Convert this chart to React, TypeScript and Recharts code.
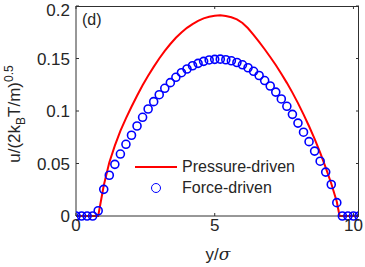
import { ComposedChart, Line, Scatter, XAxis, YAxis } from 'recharts'

// force-driven (circles), sampled every 0.2 sigma
const forceY = [
  0, 0.2, 0.4, 0.6, 0.8, 1.0, 1.2, 1.4, 1.6, 1.8, 2.0, 2.2, 2.4, 2.6, 2.8, 3.0, 3.2, 3.4,
  3.6, 3.8, 4.0, 4.2, 4.4, 4.6, 4.8, 5.0, 5.2, 5.4, 5.6, 5.8, 6.0, 6.2, 6.4, 6.6, 6.8, 7.0,
  7.2, 7.4, 7.6, 7.8, 8.0, 8.2, 8.4, 8.6, 8.8, 9.0, 9.2, 9.4, 9.6, 9.8, 10.0, 10.2,
]
const forceU = [
  0, 0, 0, 0, 0.005, 0.0254, 0.0388, 0.0492, 0.059, 0.0683, 0.0769, 0.0857, 0.094, 0.1019,
  0.1089, 0.1155, 0.1216, 0.127, 0.1321, 0.1365, 0.14, 0.1431, 0.1454, 0.1473, 0.1486,
  0.1492, 0.1494, 0.1488, 0.1478, 0.1462, 0.144, 0.1412, 0.1378, 0.1338, 0.129, 0.1238,
  0.118, 0.1115, 0.1045, 0.0968, 0.0885, 0.0798, 0.0708, 0.0618, 0.0522, 0.0418, 0.03,
  0.0127, 0, 0, 0, 0,
]

// pressure-driven (red line)
const pressureY = [
  0, 0.8, 1.0, 1.2, 1.4, 1.6, 1.8, 2.0, 2.2, 2.4, 2.6, 2.8, 3.0, 3.2, 3.4, 3.6, 3.8, 4.0,
  4.2, 4.4, 4.6, 4.8, 5.0, 5.2, 5.4, 5.6, 5.8, 6.0, 6.2, 6.4, 6.6, 6.8, 7.0, 7.2, 7.4, 7.6,
  7.8, 8.0, 8.2, 8.4, 8.6, 8.8, 9.0, 9.2, 9.4, 9.5, 10.2,
]
const pressureU = [
  0, 0, 0.029, 0.051, 0.067, 0.081, 0.093, 0.104, 0.1145, 0.1245, 0.1335, 0.142, 0.15,
  0.1573, 0.1638, 0.1697, 0.1748, 0.1792, 0.1828, 0.1858, 0.1882, 0.1898, 0.1908, 0.1912,
  0.1905, 0.1893, 0.1872, 0.1838, 0.1788, 0.1725, 0.1658, 0.1588, 0.1514, 0.1438, 0.1355,
  0.1268, 0.1175, 0.1075, 0.0968, 0.0855, 0.0735, 0.0603, 0.046, 0.031, 0.0135, 0, 0,
]

const xTicks = [0, 5, 10]
const yTicks = [0, 0.05, 0.1, 0.15, 0.2]
const X_MAX = 10.2
const Y_MAX = 0.2

const forceData = forceY.map((y, i) => ({ y, u: forceU[i] }))
const pressureData = pressureY.map((y, i) => ({ y, u: pressureU[i] }))

const FONT = '"Liberation Sans", Arial, sans-serif'
const INK = '#262626'
const AXIS = '#303030'

// chart frame
const W = 365
const H = 267
const M = { top: 6, right: 6, bottom: 0, left: 0 }
const Y_AXIS_W = 76
const X_AXIS_H = 51
const PL = M.left + Y_AXIS_W
const PT = M.top
const PW = W - PL - M.right
const PH = H - PT - M.bottom - X_AXIS_H

const tickStyle = { fontSize: 17, fill: INK, fontFamily: FONT }

const Ring = (props: any) => (
  <circle cx={props.cx} cy={props.cy} r={4} fill="none" stroke="#0000ff" strokeWidth={1.6} />
)

// top and right edges of the box, with inward ticks (MATLAB "box on")
function BoxEdges() {
  const sx = (v: number) => PL + (v / X_MAX) * PW
  const sy = (v: number) => PT + PH - (v / Y_MAX) * PH
  return (
    <>
      <div
        style={{
          position: 'absolute',
          left: PL,
          top: PT - 0.5,
          width: PW,
          height: PH,
          borderTop: `1px solid ${AXIS}`,
          borderRight: `1px solid ${AXIS}`,
          boxSizing: 'border-box',
          zIndex: 5,
          pointerEvents: 'none',
        }}
      />
      <svg width={W} height={H} style={{ position: 'absolute', left: 0, top: 0, pointerEvents: 'none', zIndex: 6 }}>
        <g stroke={AXIS} strokeWidth={1}>
          {xTicks.map((t) => (
            <line key={'x' + t} x1={sx(t)} y1={PT} x2={sx(t)} y2={PT + 3} />
          ))}
          {yTicks.map((t) => (
            <line key={'y' + t} x1={PL + PW} y1={sy(t)} x2={PL + PW - 3} y2={sy(t)} />
          ))}
        </g>
      </svg>
    </>
  )
}

export default function App() {
  return (
    <div style={{ position: 'absolute', left: 0, top: 0, width: W, height: H, background: '#fff', fontFamily: FONT, color: INK }}>
      <ComposedChart width={W} height={H} margin={M}>
        <XAxis
          dataKey="y"
          type="number"
          domain={[0, X_MAX]}
          ticks={xTicks}
          height={X_AXIS_H}
          tickSize={-3}
          tickMargin={6}
          tick={tickStyle}
          stroke={AXIS}
          allowDataOverflow
        />
        <YAxis
          dataKey="u"
          type="number"
          domain={[0, Y_MAX]}
          ticks={yTicks}
          width={Y_AXIS_W}
          tickSize={-3}
          tickMargin={9}
          tick={tickStyle}
          stroke={AXIS}
        />
        <Line
          data={pressureData}
          dataKey="u"
          type="linear"
          stroke="#ff0000"
          strokeWidth={2}
          dot={false}
          isAnimationActive={false}
        />
        <Scatter data={forceData} dataKey="u" shape={Ring} isAnimationActive={false} />
      </ComposedChart>

      <BoxEdges />

      <div style={{ position: 'absolute', left: 82, top: 11, fontSize: 16 }}>(d)</div>

      <div
        style={{
          position: 'absolute',
          left: 15,
          top: 114,
          transform: 'translate(-50%, -50%) rotate(-90deg)',
          whiteSpace: 'nowrap',
          fontSize: 17,
        }}
      >
        u/(2k<sub style={{ fontSize: 12 }}>B</sub>T/m)<sup style={{ fontSize: 12 }}>0.5</sup>
      </div>

      <div style={{ position: 'absolute', left: 218, top: 254, transform: 'translate(-50%, -50%)', fontSize: 17, whiteSpace: 'nowrap' }}>
        y/<span style={{ fontStyle: 'italic', fontFamily: '"DejaVu Serif", serif' }}>σ</span>
      </div>

      <div style={{ position: 'absolute', left: 135, top: 166, width: 42, height: 2, background: '#ff0000' }} />
      <div style={{ position: 'absolute', left: 182, top: 167, transform: 'translateY(-50%)', fontSize: 16, whiteSpace: 'nowrap' }}>Pressure-driven</div>
      <div style={{ position: 'absolute', left: 151, top: 183, width: 8, height: 8, borderRadius: '50%', border: '1.6px solid #0000ff' }} />
      <div style={{ position: 'absolute', left: 182, top: 188, transform: 'translateY(-50%)', fontSize: 16, whiteSpace: 'nowrap' }}>Force-driven</div>
    </div>
  )
}
